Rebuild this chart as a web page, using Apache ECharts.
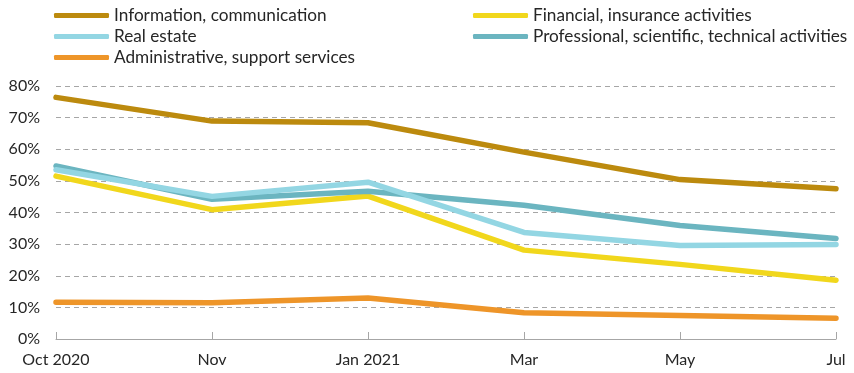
<!DOCTYPE html>
<html>
<head>
<meta charset="utf-8">
<script src="https://cdn.jsdelivr.net/npm/echarts@6/dist/echarts.min.js"></script>
<style>html,body{margin:0;padding:0;background:#fff}#c{width:854px;height:373px}</style>
</head>
<body>
<div id="c"></div>
<script>
var categories = ['Oct 2020', 'Nov', 'Jan 2021', 'Mar', 'May', 'Jul'];
var seriesNames = ['Information, communication', 'Financial, insurance activities', 'Real estate', 'Professional, scientific, technical activities', 'Administrative, support services'];
var infoComm = [76.4, 68.9, 68.4, 59.1, 50.4, 47.5];
var financial = [51.5, 40.9, 45.2, 28.1, 23.6, 18.6];
var realEstate = [53.5, 45.1, 49.6, 33.7, 29.6, 29.9];
var professional = [54.7, 44.2, 46.7, 42.3, 35.9, 31.8];
var adminSupport = [11.6, 11.5, 13.0, 8.3, 7.4, 6.6];
var yTicks = [0, 10, 20, 30, 40, 50, 60, 70, 80];

var colors = ['#BC8A0E', '#F1D71C', '#93D6E3', '#6BB5C0', '#EE9529'];
var values = [infoComm, financial, realEstate, professional, adminSupport];
var font = 'Lato, "Open Sans", sans-serif';

var chart = echarts.init(document.getElementById('c'), null, {renderer: 'canvas'});
var legendCommon = {
  orient: 'vertical',
  top: 7,
  padding: 0,
  itemWidth: 55,
  itemHeight: 5,
  itemGap: 4,
  icon: 'roundRect',
  textStyle: {fontFamily: font, fontSize: 17.2, color: '#262626'}
};
chart.setOption({
  animation: false,
  color: colors,
  legend: [
    Object.assign({}, legendCommon, {left: 54, data: [seriesNames[0], seriesNames[2], seriesNames[4]]}),
    Object.assign({}, legendCommon, {left: 473, data: [seriesNames[1], seriesNames[3]]})
  ],
  grid: {left: 56, right: 18, top: 86, bottom: 34, containLabel: false},
  xAxis: {
    type: 'category',
    data: categories,
    boundaryGap: false,
    axisLine: {lineStyle: {color: '#A6A6A6', width: 1}},
    axisTick: {inside: true, length: 7, lineStyle: {color: '#A6A6A6'}},
    axisLabel: {fontFamily: font, fontSize: 16, color: '#262626', margin: 13, showMaxLabel: true}
  },
  yAxis: {
    type: 'value',
    min: yTicks[0],
    max: yTicks[yTicks.length - 1],
    interval: 10,
    axisLine: {show: false},
    axisTick: {show: false},
    axisLabel: {fontFamily: font, fontSize: 16, color: '#262626', margin: 16, formatter: '{value}%'},
    splitLine: {lineStyle: {color: '#A6A6A6', type: [5, 4], width: 1}}
  },
  series: seriesNames.map(function (n, i) {
    return {
      name: n,
      type: 'line',
      data: values[i],
      symbol: 'none',
      lineStyle: {width: 5.5, color: colors[i], cap: 'round', join: 'round'},
      itemStyle: {color: colors[i]},
      z: [5, 1, 3, 2, 4][i]
    };
  })
});
</script>
</body>
</html>
